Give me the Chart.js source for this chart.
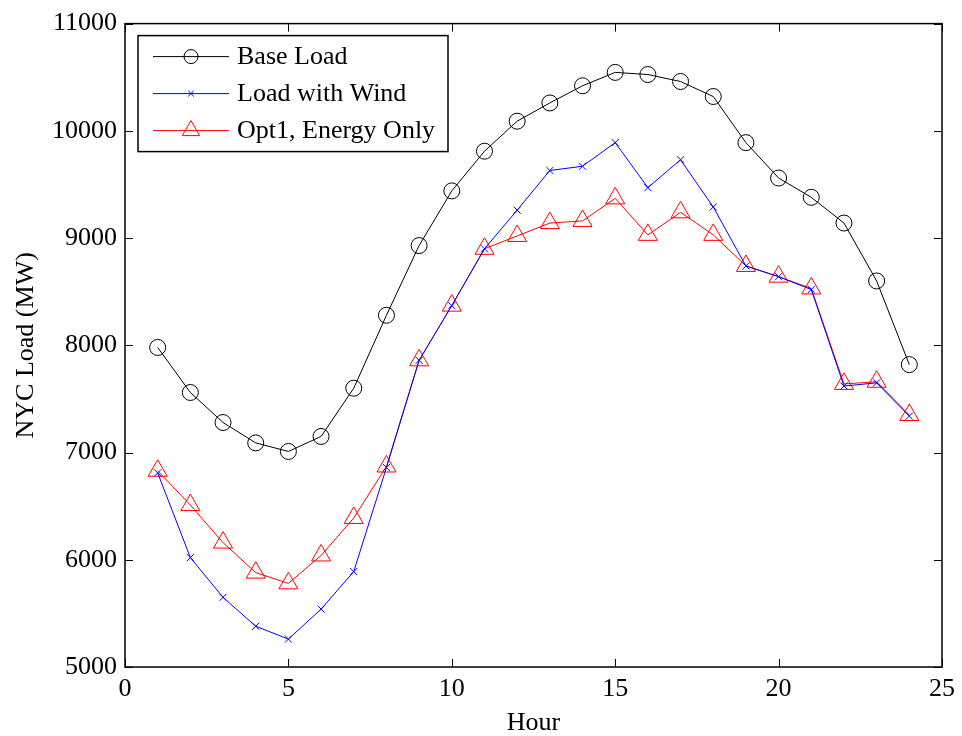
<!DOCTYPE html>
<html>
<head>
<meta charset="utf-8">
<script src="https://cdn.jsdelivr.net/npm/chart.js@4.4.1/dist/chart.umd.min.js"></script>
<style>
  html, body { margin: 0; padding: 0; background: #fff; }
  canvas { display: block; }
</style>
</head>
<body>
<canvas id="c" width="962" height="736"></canvas>
<script>
// hours 1..24
const hours = [1,2,3,4,5,6,7,8,9,10,11,12,13,14,15,16,17,18,19,20,21,22,23,24];
const baseLoad = [7980,7560,7280,7090,7010,7150,7600,8280,8930,9440,9810,10090,
                  10260,10420,10545,10525,10460,10320,9890,9560,9380,9140,8600,7820];
const loadWithWind = [6810,6020,5650,5380,5260,5540,5890,6860,7860,8370,8900,9260,
                      9630,9670,9890,9470,9730,9290,8740,8640,8520,7620,7650,7340];
const opt1Energy = [6830,6510,6160,5880,5780,6040,6390,6870,7860,8370,8900,9020,
                    9140,9160,9370,9030,9240,9030,8740,8640,8530,7640,7660,7350];
const xTicks = [0,5,10,15,20,25];
const yTicks = [5000,6000,7000,8000,9000,10000,11000];

const FONT = "'Liberation Serif', 'Times New Roman', serif";

const series = [
  { label: 'Base Load', data: baseLoad, color: '#000000', style: 'circle', radius: 8 },
  { label: 'Load with Wind', data: loadWithWind, color: '#0000ff', style: 'crossRot', radius: 5 },
  { label: 'Opt1, Energy Only', data: opt1Energy, color: '#ff0000', style: 'triangle', radius: 11 }
];

// frame + inward ticks like matlab, plus legend box
const framePlugin = {
  id: 'frame',
  afterDraw(chart) {
    const ctx = chart.ctx, a = chart.chartArea;
    const xs = chart.scales.x, ys = chart.scales.y;
    ctx.save();
    ctx.strokeStyle = '#000';
    ctx.lineWidth = 1.5;
    ctx.strokeRect(a.left, a.top, a.right - a.left, a.bottom - a.top);
    ctx.lineWidth = 1;
    const len = 8;
    ctx.beginPath();
    xTicks.forEach(v => {
      const px = Math.round(xs.getPixelForValue(v)) + 0.5;
      ctx.moveTo(px, a.bottom); ctx.lineTo(px, a.bottom - len);
      ctx.moveTo(px, a.top); ctx.lineTo(px, a.top + len);
    });
    yTicks.forEach(v => {
      const py = Math.round(ys.getPixelForValue(v)) + 0.5;
      ctx.moveTo(a.left, py); ctx.lineTo(a.left + len, py);
      ctx.moveTo(a.right, py); ctx.lineTo(a.right - len, py);
    });
    ctx.stroke();

    const lx = a.left + 13, ly = a.top + 12, lw = 310, lh = 116;
    ctx.fillStyle = '#fff';
    ctx.fillRect(lx, ly, lw, lh);
    ctx.strokeStyle = '#000';
    ctx.lineWidth = 1.5;
    ctx.strokeRect(lx, ly, lw, lh);
    ctx.font = '26px ' + FONT;
    ctx.textBaseline = 'middle';
    series.forEach((s, i) => {
      const y = ly + 21 + i * 37;
      ctx.strokeStyle = s.color;
      ctx.lineWidth = 1;
      ctx.beginPath();
      ctx.moveTo(lx + 15, y); ctx.lineTo(lx + 91, y);
      ctx.stroke();
      ctx.fillStyle = 'rgba(0,0,0,0)';
      Chart.helpers.drawPoint(ctx, {
        pointStyle: s.style, radius: s.style === 'crossRot' ? 4 : s.radius - 1, rotation: 0,
        borderWidth: 1
      }, lx + 53, y);
      ctx.fillStyle = '#000';
      ctx.fillText(s.label, lx + 99, y + 1);
    });
    ctx.restore();
  }
};

new Chart(document.getElementById('c'), {
  type: 'line',
  data: {
    datasets: series.map(s => ({
      label: s.label,
      data: hours.map((h, i) => ({ x: h, y: s.data[i] })),
      borderColor: s.color,
      backgroundColor: 'rgba(0,0,0,0)',
      borderWidth: 1,
      pointStyle: s.style,
      pointRadius: s.radius,
      pointBorderWidth: 1,
      pointBorderColor: s.color,
      pointBackgroundColor: 'rgba(0,0,0,0)',
      tension: 0,
      fill: false
    }))
  },
  options: {
    responsive: false,
    devicePixelRatio: 1,
    animation: false,
    layout: { padding: { top: 20, right: 15, left: 0, bottom: 0 } },
    plugins: { legend: { display: false }, tooltip: { enabled: false } },
    scales: {
      x: {
        type: 'linear', min: 0, max: 25,
        afterBuildTicks: sc => { sc.ticks = xTicks.map(v => ({ value: v })); },
        afterFit: sc => { sc.height = 69; },
        grid: { display: false, drawTicks: false },
        border: { display: false },
        ticks: { color: '#000', padding: 7, maxRotation: 0, callback: v => String(v),
                 font: { family: FONT, size: 26 } },
        title: { display: true, text: 'Hour', color: '#000', padding: { top: 0, bottom: -3 },
                 font: { family: FONT, size: 26 } }
      },
      y: {
        type: 'linear', min: 5000, max: 11000,
        afterBuildTicks: sc => { sc.ticks = yTicks.map(v => ({ value: v })); },
        afterFit: sc => { sc.width = 125; },
        grid: { display: false, drawTicks: false },
        border: { display: false },
        ticks: { color: '#000', padding: 8, callback: v => String(v),
                 font: { family: FONT, size: 26 } },
        title: { display: true, text: 'NYC Load (MW)', color: '#000', padding: { top: 11, bottom: 0 },
                 font: { family: FONT, size: 26 } }
      }
    }
  },
  plugins: [framePlugin]
});
</script>
</body>
</html>
